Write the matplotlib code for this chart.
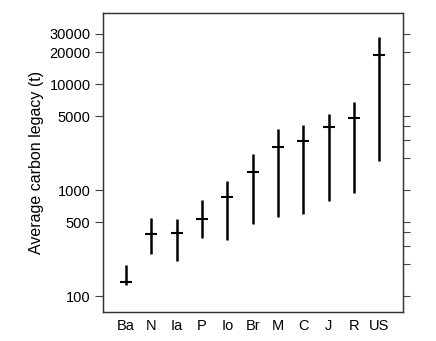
import matplotlib
matplotlib.use("Agg")
import matplotlib.pyplot as plt
import numpy as np
from matplotlib.ticker import FixedLocator, NullFormatter, NullLocator

plt.rcParams["font.family"] = ["Liberation Sans", "DejaVu Sans"]

# regions, ordered by legacy
regions = ["Ba", "N", "Ia", "P", "Io", "Br", "M", "C", "J", "R", "US"]
legacy_mid = [137, 385, 398, 532, 865, 1497, 2577, 2897, 3955, 4842, 18750]
legacy_low = [127, 249, 217, 355, 340, 484, 563, 601, 793, 948, 1900]
legacy_high = [197, 545, 536, 809, 1225, 2214, 3758, 4130, 5284, 6760, 27900]

left_ticks = [100, 500, 1000, 5000, 10000, 20000, 30000]
right_ticks = [100, 200, 300, 400, 500, 1000, 2000, 3000, 4000, 5000,
               10000, 20000, 30000]

fig = plt.figure(figsize=(4.36, 3.41), dpi=100)
ax = fig.add_axes([103 / 436, 1 - 312 / 341, 300 / 436, 299 / 341])

x = np.arange(1, len(regions) + 1)
ax.vlines(x, legacy_low, legacy_high, color="black", linewidth=1.8)
ax.plot(x, legacy_mid, linestyle="none", marker="_", markersize=9,
        markeredgewidth=1.5, color="black")

ax.set_yscale("log")
ax.set_ylim(71, 47100)
ax.set_xlim(0.09, 11.93)

ax.yaxis.set_major_locator(FixedLocator(left_ticks))
ax.yaxis.set_minor_locator(NullLocator())
ax.set_yticklabels([str(v) for v in left_ticks])
ax.tick_params(axis="y", which="major", direction="out", length=6,
               width=0.8, color="#444444", labelsize=10.5, pad=3)

ax.set_xticks(x)
ax.set_xticklabels(regions)
ax.tick_params(axis="x", length=0, labelsize=10.5, pad=5)

axr = ax.twinx()
axr.set_yscale("log")
axr.set_ylim(ax.get_ylim())
axr.yaxis.set_major_locator(FixedLocator(right_ticks))
axr.yaxis.set_minor_locator(NullLocator())
axr.yaxis.set_major_formatter(NullFormatter())
axr.tick_params(axis="y", which="major", direction="out", length=5,
                width=0.8, color="#444444")

for a in (ax, axr):
    for s in a.spines.values():
        s.set_color("#333333")
        s.set_linewidth(0.9)

ax.set_ylabel("Average carbon legacy (t)", fontsize=11.5, labelpad=4)

fig.savefig("out.png", dpi=100)
